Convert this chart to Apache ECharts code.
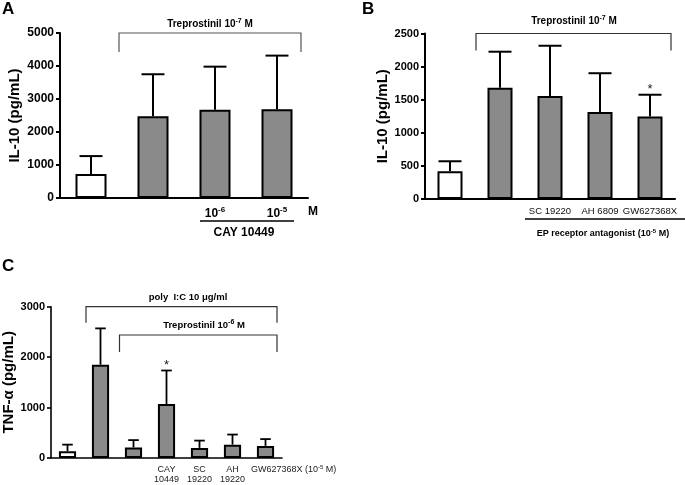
<!DOCTYPE html>
<html><head><meta charset="utf-8">
<script src="https://cdn.jsdelivr.net/npm/echarts@6/dist/echarts.min.js"></script>
<style>html,body{margin:0;padding:0;background:#fff}#c{width:685px;height:485px}</style>
</head><body><div id="c"></div>
<script>
// ---- Data ----
const catsA = ['Control', 'Treprostinil', 'CAY 1e-6', 'CAY 1e-5'];
const tickLabelsA = ['', '', '10^-6', '10^-5'];
const valsA = [730, 2475, 2675, 2690];
const errA = [1270, 3750, 3980, 4315];
const starsA = ['', '', '', ''];

const catsB = ['Control', 'Treprostinil', 'SC 19220', 'AH 6809', 'GW627368X'];
const tickLabelsB = ['', '', 'SC 19220', 'AH 6809', 'GW627368X'];
const valsB = [420, 1680, 1555, 1315, 1245];
const errB = [570, 2225, 2315, 1900, 1575];
const starsB = ['', '', '', '', '*'];

const catsC = ['Control', 'poly I:C', 'Treprostinil', 'CAY 10449', 'SC 19220', 'AH 19220', 'GW627368X'];
const tickLabelsC = ['', '', '', 'CAY\n10449', 'SC\n19220', 'AH\n19220', ''];
const valsC = [135, 1850, 210, 1070, 200, 265, 240];
const errC = [265, 2570, 355, 1735, 345, 465, 375];
const starsC = ['', '', '', '*', '', '', ''];

const yTicksA = [0, 5000, 1000];
const yTicksB = [0, 2500, 500];
const yTicksC = [0, 3000, 1000];

// ---- Chart ----
const FONT = "'Liberation Sans', Arial, sans-serif";
const GRAY = '#8a8a8a';
const chart = echarts.init(document.getElementById('c'), null, {renderer: 'canvas'});

function yAxisCfg(grid, ticks, name, gap, fs, lw) {
  return {
    type: 'value', gridIndex: grid, min: ticks[0], max: ticks[1], interval: ticks[2],
    name: name, nameLocation: 'middle', nameGap: gap, nameRotate: 90,
    nameTextStyle: {fontFamily: FONT, fontWeight: 'bold', fontSize: 15, color: '#000'},
    axisLine: {show: true, lineStyle: {color: '#000', width: lw}},
    axisTick: {show: true, inside: false, length: 4, lineStyle: {color: '#000', width: lw}},
    axisLabel: {fontFamily: FONT, fontWeight: 'bold', fontSize: fs, color: '#000', margin: 6, formatter: v => String(v)},
    splitLine: {show: false}
  };
}
function xAxisCfg(grid, cats, labels, lw, labelStyle) {
  return Object.assign({
    type: 'category', gridIndex: grid, data: cats,
    axisLine: {show: true, onZero: false, lineStyle: {color: '#000', width: lw}},
    axisTick: {show: false},
    splitLine: {show: false}
  }, {axisLabel: Object.assign({interval: 0, formatter: (v, i) => labels[i]}, labelStyle)});
}
function barSeries(grid, vals, bw) {
  return {
    type: 'bar', xAxisIndex: grid, yAxisIndex: grid, data: vals, barWidth: bw,
    itemStyle: {color: p => p.dataIndex === 0 ? '#ffffff' : GRAY, borderColor: '#000', borderWidth: 2},
    silent: true, z: 2
  };
}
function errSeries(grid, vals, errs, stars, capFrac, lw) {
  return {
    type: 'custom', xAxisIndex: grid, yAxisIndex: grid, z: 3, silent: true,
    data: vals.map((v, i) => [i, v, errs[i]]),
    renderItem: (params, api) => {
      const i = api.value(0);
      const p0 = api.coord([i, api.value(1)]);
      const p1 = api.coord([i, api.value(2)]);
      const half = api.size([1, 0])[0] * capFrac / 2;
      const children = [
        {type: 'line', shape: {x1: p0[0], y1: p0[1], x2: p1[0], y2: p1[1]}, style: {stroke: '#000', lineWidth: lw}},
        {type: 'line', shape: {x1: p1[0] - half, y1: p1[1], x2: p1[0] + half, y2: p1[1]}, style: {stroke: '#000', lineWidth: lw}}
      ];
      const s = stars[params.dataIndex];
      if (s) children.push({type: 'text', style: {text: s, x: p1[0], y: p1[1] - 5, align: 'center', verticalAlign: 'middle', font: '13px ' + FONT, fill: '#222'}});
      return {type: 'group', children: children};
    }
  };
}
const supRich = (fs, col, bold) => ({
  a: {fontFamily: FONT, fontWeight: bold ? 'bold' : 'normal', fontSize: fs, color: col},
  s: {fontFamily: FONT, fontWeight: bold ? 'bold' : 'normal', fontSize: Math.round(fs * 0.7), color: col, padding: [0, 0, Math.round(fs * 0.55), 0]}
});
function supText(str) { // "10^-6 M" style
  return str.replace(/\^(-?\d+)/g, '}{s|$1}{a|').replace(/^/, '{a|') + '}';
}
function gText(text, x, y, fs, bold, col, align) {
  return {type: 'text', silent: true, style: {text: supText(text), x: x, y: y, align: align || 'center', verticalAlign: 'middle', rich: supRich(fs, col || '#000', bold), fill: col || '#000'}};
}
function bracket(x1, x2, y, drop, col) {
  return {type: 'polyline', silent: true, shape: {points: [[x1, y + drop], [x1, y], [x2, y], [x2, y + drop]]}, style: {stroke: col || '#444', lineWidth: 1.2, fill: null}};
}
function hline(x1, x2, y, lw) {
  return {type: 'line', silent: true, shape: {x1: x1, y1: y, x2: x2, y2: y}, style: {stroke: '#000', lineWidth: lw}};
}

const option = {
  animation: false,
  backgroundColor: '#fff',
  grid: [
    {left: 60, top: 33, width: 248, height: 165},
    {left: 425, top: 33.5, width: 250, height: 165.5},
    {left: 51, top: 306.7, width: 231, height: 152.6}
  ],
  xAxis: [
    xAxisCfg(0, catsA, tickLabelsA, 2, {margin: 8, formatter: (v, i) => supText(tickLabelsA[i]), rich: supRich(12, '#000', true)}),
    xAxisCfg(1, catsB, tickLabelsB, 2, {margin: 7, fontFamily: FONT, fontSize: 9.5, color: '#111'}),
    xAxisCfg(2, catsC, tickLabelsC, 1.6, {margin: 6, fontFamily: FONT, fontSize: 9, lineHeight: 10.5, color: '#222'})
  ],
  yAxis: [
    yAxisCfg(0, yTicksA, 'IL-10 (pg/mL)', 38, 12, 2),
    yAxisCfg(1, yTicksB, 'IL-10 (pg/mL)', 35, 11, 2),
    yAxisCfg(2, yTicksC, 'TNF-α (pg/mL)', 31, 11, 1.6)
  ],
  series: [
    barSeries(0, valsA, '50%'), errSeries(0, valsA, errA, starsA, 0.37, 2),
    barSeries(1, valsB, '50%'), errSeries(1, valsB, errB, starsB, 0.46, 2),
    barSeries(2, valsC, '52%'), errSeries(2, valsC, errC, starsC, 0.32, 1.8)
  ],
  graphic: [
    {type: 'text', silent: true, style: {text: 'A', x: 2, y: 9, verticalAlign: 'middle', font: 'bold 17px ' + FONT, fill: '#000'}},
    {type: 'text', silent: true, style: {text: 'B', x: 362, y: 9, verticalAlign: 'middle', font: 'bold 17px ' + FONT, fill: '#000'}},
    {type: 'text', silent: true, style: {text: 'C', x: 2, y: 266, verticalAlign: 'middle', font: 'bold 17px ' + FONT, fill: '#000'}},
    // Panel A annotations
    bracket(119, 301, 33, 19, '#555'),
    gText('Treprostinil 10^-7 M', 210, 24, 10, true),
    gText('M', 308, 212, 12, true, '#000', 'left'),
    hline(200, 294, 221, 1.6),
    gText('CAY 10449', 244, 233, 12, true),
    // Panel B annotations
    bracket(476, 671, 33.5, 17, '#333'),
    gText('Treprostinil 10^-7 M', 574, 21, 10, true),
    hline(525, 685, 219, 1.6),
    gText('EP receptor antagonist (10^-5 M)', 603, 234, 9, true),
    // Panel C annotations
    bracket(86, 277, 306.7, 16, '#333'),
    gText('poly  I:C 10 μg/ml', 188, 297, 9.5, true),
    bracket(119.5, 277, 335, 17, '#333'),
    gText('Treprostinil 10^-6 M', 204, 325, 9.5, true),
    gText('GW627368X (10^-5 M)', 251, 470, 9, false, '#222', 'left')
  ]
};
chart.setOption(option);
</script>
</body></html>
